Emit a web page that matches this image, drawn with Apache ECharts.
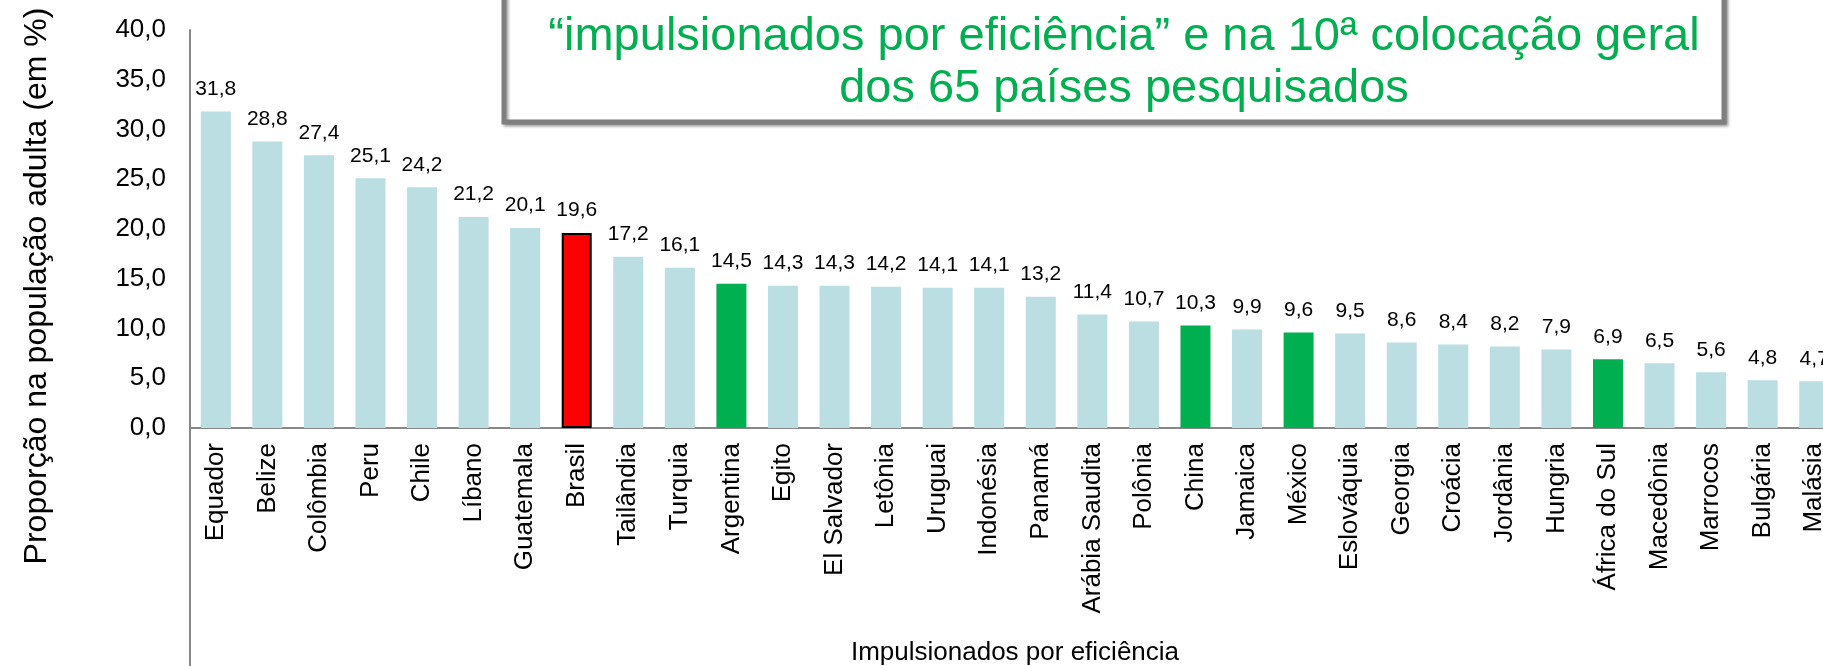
<!DOCTYPE html>
<html>

<head>
    <meta charset="utf-8">
    <title>Impulsionados por eficiência</title>
    <style>
        html, body {
            margin: 0;
            padding: 0;
            background: #ffffff;
        }
        #chart-container {
            width: 1823px;
            height: 666px;
        }
    </style>
    <script src="https://cdn.jsdelivr.net/npm/echarts@6.0.0/dist/echarts.min.js"></script>
</head>

<body>
    <div id="chart-container"></div>
    <script>
        // paises (ordem do grafico) e proporcao na populacao adulta (%)
        const countries = ['Equador', 'Belize', 'Colômbia', 'Peru', 'Chile', 'Líbano', 'Guatemala', 'Brasil',
            'Tailândia', 'Turquia', 'Argentina', 'Egito', 'El Salvador', 'Letônia', 'Uruguai', 'Indonésia',
            'Panamá', 'Arábia Saudita', 'Polônia', 'China', 'Jamaica', 'México', 'Eslováquia', 'Georgia',
            'Croácia', 'Jordânia', 'Hungria', 'África do Sul', 'Macedônia', 'Marrocos', 'Bulgária', 'Malásia'];
        const values = [31.8, 28.8, 27.4, 25.1, 24.2, 21.2, 20.1, 19.6,
            17.2, 16.1, 14.5, 14.3, 14.3, 14.2, 14.1, 14.1,
            13.2, 11.4, 10.7, 10.3, 9.9, 9.6, 9.5, 8.6,
            8.4, 8.2, 7.9, 6.9, 6.5, 5.6, 4.8, 4.7];
        const greenCountries = ['Argentina', 'China', 'México', 'África do Sul'];
        const redCountry = 'Brasil';

        const FONT = '"Liberation Sans", Arial, sans-serif';

        function fmt(v) {
            return v.toFixed(1).replace('.', ',');
        }

        var dom = document.getElementById('chart-container');
        var myChart = echarts.init(dom, null, { renderer: 'canvas' });

        const seriesData = values.map(function (v, i) {
            let style = { color: '#BADEE2' };
            if (countries[i] === redCountry) {
                style = { color: '#FF0000', borderColor: '#000000', borderWidth: 2 };
            } else if (greenCountries.indexOf(countries[i]) >= 0) {
                style = { color: '#00B050' };
            }
            return { value: v, itemStyle: style };
        });

        // o grafico original esta cortado a direita: a grade passa da borda
        const gridLeft = 190;
        const gridWidth = 1650;

        var option = {
            animation: false,
            textStyle: { fontFamily: FONT },
            grid: {
                left: gridLeft,
                width: gridWidth,
                top: 30,
                bottom: 238,
                containLabel: false,
                outerBoundsMode: 'none'
            },
            xAxis: {
                type: 'category',
                data: countries,
                name: 'Impulsionados por eficiência',
                nameLocation: 'middle',
                nameGap: 212,
                nameTextStyle: { color: '#000', fontSize: 26, fontFamily: FONT },
                axisLine: { lineStyle: { color: '#888888', width: 2 } },
                axisTick: { show: false },
                axisLabel: {
                    interval: 0,
                    rotate: 90,
                    margin: 15,
                    color: '#000',
                    fontSize: 26,
                    fontFamily: FONT
                }
            },
            yAxis: {
                type: 'value',
                min: 0,
                max: 40,
                interval: 5,
                axisLine: { show: true, lineStyle: { color: '#888888', width: 2 } },
                axisTick: { show: false },
                splitLine: { show: false },
                axisLabel: {
                    margin: 24,
                    color: '#000',
                    fontSize: 26,
                    fontFamily: FONT,
                    formatter: function (v) { return fmt(v); }
                }
            },
            series: [
                {
                    type: 'bar',
                    data: seriesData,
                    barWidth: 30,
                    label: {
                        show: true,
                        position: 'top',
                        distance: 12,
                        color: '#000',
                        fontSize: 21,
                        fontFamily: FONT,
                        formatter: function (p) { return fmt(p.value); }
                    }
                }
            ]
        };

        myChart.setOption(option);

        // eixo vertical prolongado ate o fim da figura, caixa de destaque e titulo do eixo y
        const origin = myChart.convertToPixel({ gridIndex: 0 }, [0, 0]);
        myChart.setOption({
            graphic: [
                {
                    id: 'axisExt',
                    type: 'line',
                    shape: { x1: gridLeft, y1: origin[1], x2: gridLeft, y2: 700 },
                    style: { stroke: '#888888', lineWidth: 2 }
                },
                {
                    id: 'box',
                    type: 'rect',
                    shape: { x: 504, y: -20, width: 1220, height: 142 },
                    style: {
                        fill: '#ffffff',
                        stroke: '#7F7F7F',
                        lineWidth: 5,
                        shadowBlur: 3,
                        shadowOffsetX: 2,
                        shadowOffsetY: 2,
                        shadowColor: 'rgba(0,0,0,0.35)'
                    },
                    z: 10
                },
                {
                    id: 'boxText',
                    type: 'text',
                    x: 1124,
                    y: 63,
                    style: {
                        text: '“impulsionados por eficiência” e na 10ª colocação geral\ndos 65 países pesquisados',
                        fill: '#00B050',
                        font: '47px ' + FONT,
                        lineHeight: 52,
                        align: 'center',
                        verticalAlign: 'middle'
                    },
                    z: 11
                },
                {
                    id: 'yName',
                    type: 'text',
                    x: 37,
                    y: 286,
                    rotation: Math.PI / 2,
                    style: {
                        text: 'Proporção na população adulta (em %)',
                        fill: '#000',
                        font: '32px ' + FONT,
                        align: 'center',
                        verticalAlign: 'middle'
                    }
                }
            ]
        });

        window.addEventListener('resize', myChart.resize);
    </script>
</body>

</html>
